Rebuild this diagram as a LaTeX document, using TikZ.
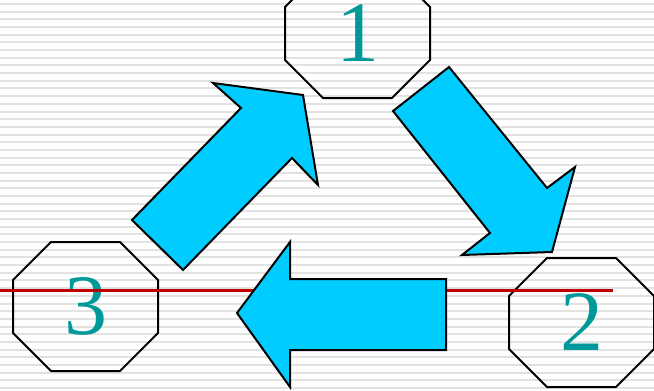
\documentclass[tikz,border=0pt]{standalone}
\usepackage{fontspec}
\setmainfont{Liberation Serif}
\definecolor{arrowcyan}{HTML}{00CCFF}
\definecolor{digitteal}{HTML}{009999}
\definecolor{redline}{HTML}{C00000}
\definecolor{stripe}{HTML}{E2E2E2}
\tikzset{
  blockarrow/.style={fill=arrowcyan, draw=black, line width=2pt, line join=miter},
  octoline/.style={draw=black, line width=2pt, line join=miter},
  digit/.style={text=digitteal, inner sep=0pt, font=\fontsize{86}{86}\selectfont},
  octa/.pic={\path[octoline] (-72.5,-26.5) -- (-34.5,-64.5) -- (34.5,-64.5) -- (72.5,-26.5)
      -- (72.5,26.5) -- (34.5,64.5) -- (-34.5,64.5) -- (-72.5,26.5) -- cycle;}
}
\begin{document}
\begin{tikzpicture}[x=1pt,y=-1pt]
\useasboundingbox (0,0) rectangle (654,391);
\fill[white] (0,0) rectangle (654,391);
% background stripes
\foreach \i in {0,...,50}{
  \fill[stripe] (0,{4+7.68*\i-1}) rectangle (654,{4+7.68*\i+1});
}
% octagons
\pic at (357.5,33.5) {octa};
\pic at (581.5,322.5) {octa};
\pic at (85.5,306.5) {octa};
% digits
\node[digit] (n1) at (357.5,33.5) {1};
\node[digit] (n2) at (581.5,322.5) {2};
\node[digit] (n3) at (85.5,306.5) {3};
% red line
\coordinate (rl) at (0,290.5);
\coordinate (rr) at (613,290.5);
\draw[redline, line width=2.6pt] (rl) -- (rr);
% arrows
\path[blockarrow] (132,220) -- (183,270) -- (292,158) -- (318,185) -- (303,95)
  -- (213,83) -- (241,108) -- cycle;
\path[blockarrow] (393,111) -- (449,67) -- (547,188) -- (575,167) -- (552,252)
  -- (462,255) -- (490,233) -- cycle;
\path[blockarrow] (446,279) -- (290,279) -- (290,242) -- (237,313) -- (290,387)
  -- (290,350) -- (446,350) -- cycle;
\end{tikzpicture}
\end{document}
